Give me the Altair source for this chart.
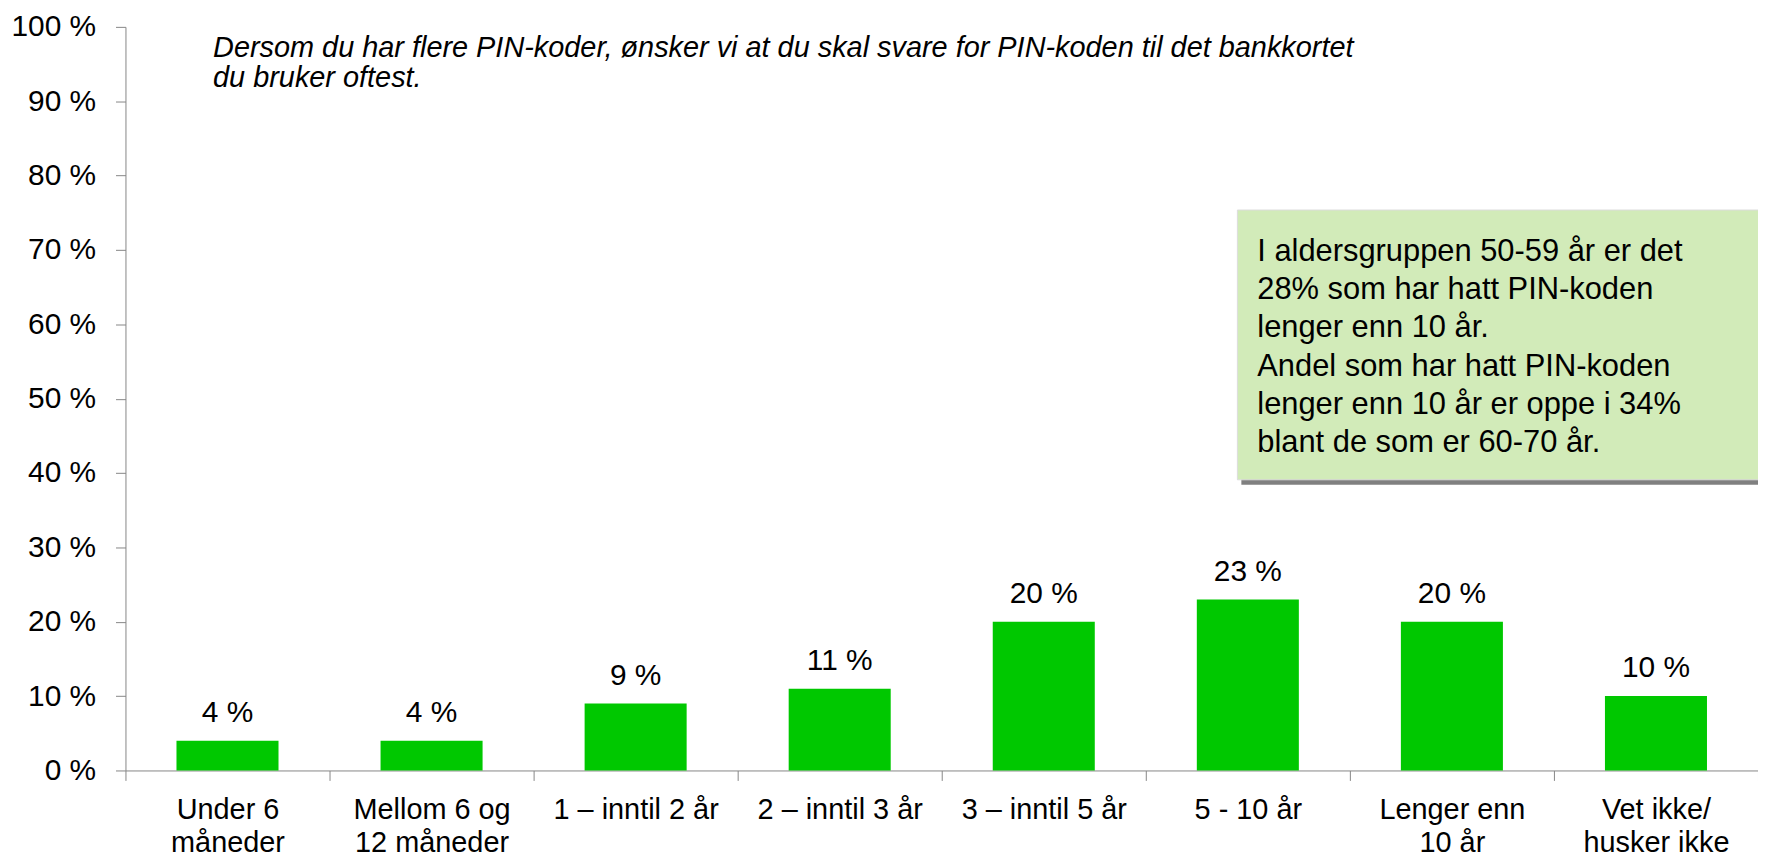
import altair as alt
import pandas as pd

# ---- data ----
categories = [
    "Under 6|måneder",
    "Mellom 6 og|12 måneder",
    "1 – inntil 2 år",
    "2 – inntil 3 år",
    "3 – inntil 5 år",
    "5 - 10 år",
    "Lenger enn|10 år",
    "Vet ikke/|husker ikke",
]
values = [4, 4, 9, 11, 20, 23, 20, 10]
y_ticks = [0, 10, 20, 30, 40, 50, 60, 70, 80, 90, 100]
subtitle_lines = [
    "Dersom du har flere PIN-koder, ønsker vi at du skal svare for PIN-koden til det bankkortet",
    "du bruker oftest.",
]
note_lines = [
    "I aldersgruppen 50-59 år er det",
    "28% som har hatt PIN-koden",
    "lenger enn 10 år.",
    "Andel som har hatt PIN-koden",
    "lenger enn 10 år er oppe i 34%",
    "blant de som er 60-70 år.",
]

FONT = "Liberation Sans"
GREEN = "#00C800"
AXIS_GREY = "#868686"

df = pd.DataFrame({"kategori": categories, "andel": values})
df["etikett"] = df["andel"].astype(str) + " %"

x_enc = alt.X(
    "kategori:N",
    sort=categories,
    scale=alt.Scale(paddingInner=0, paddingOuter=0),
    axis=alt.Axis(
        title=None,
        labelAngle=0,
        labelExpr="split(datum.label, '|')",
        labelFont=FONT,
        labelFontSize=29,
        labelLineHeight=33,
        labelPadding=15,
        labelColor="black",
        labelLimit=0,
        labelOverlap=False,
        tickBand="extent",
        tickSize=10,
        tickColor=AXIS_GREY,
        domainColor=AXIS_GREY,
    ),
)
y_enc = alt.Y(
    "andel:Q",
    scale=alt.Scale(domain=[0, 100], nice=False),
    axis=alt.Axis(
        title=None,
        values=y_ticks,
        labelExpr="datum.value + ' %'",
        grid=False,
        tickSize=10,
        labelPadding=20,
        labelFont=FONT,
        labelFontSize=30,
        labelColor="black",
        tickColor=AXIS_GREY,
        domainColor=AXIS_GREY,
    ),
)

base = alt.Chart(df).encode(x=x_enc, y=y_enc)
bars = base.mark_bar(color=GREEN, width=alt.RelativeBandSize(0.5))
labels = base.mark_text(
    baseline="alphabetic", dy=-19, font=FONT, fontSize=30, color="black"
).encode(text="etikett:N")

one = pd.DataFrame({"k": [0]})
shadow = alt.Chart(one).mark_rect(color="#808080").encode(
    x=alt.value(1121), x2=alt.value(1670), y=alt.value(188), y2=alt.value(460)
)
box = alt.Chart(one).mark_rect(
    fill="#D2EBB9", stroke="#DCDCDC", strokeWidth=1
).encode(x=alt.value(1117), x2=alt.value(1665), y=alt.value(184), y2=alt.value(455))
note = alt.Chart(one).mark_text(
    text=note_lines,
    align="left",
    baseline="alphabetic",
    font=FONT,
    fontSize=31,
    lineHeight=38.5,
    color="black",
).encode(x=alt.value(1137), y=alt.value(235))
subtitle = alt.Chart(one).mark_text(
    text=subtitle_lines,
    align="left",
    baseline="alphabetic",
    font=FONT,
    fontSize=29,
    fontStyle="italic",
    lineHeight=30,
    color="black",
).encode(x=alt.value(88), y=alt.value(30))

chart = (
    alt.layer(bars, labels, shadow, box, note, subtitle)
    .properties(
        width=1640,
        height=747,
        padding={"left": 118, "top": 17, "right": 0, "bottom": 89},
        autosize=alt.AutoSizeParams(type="none"),
    )
    .configure_view(stroke=None)
)

chart.save("out.html", embed_options={"renderer": "svg", "actions": False})
